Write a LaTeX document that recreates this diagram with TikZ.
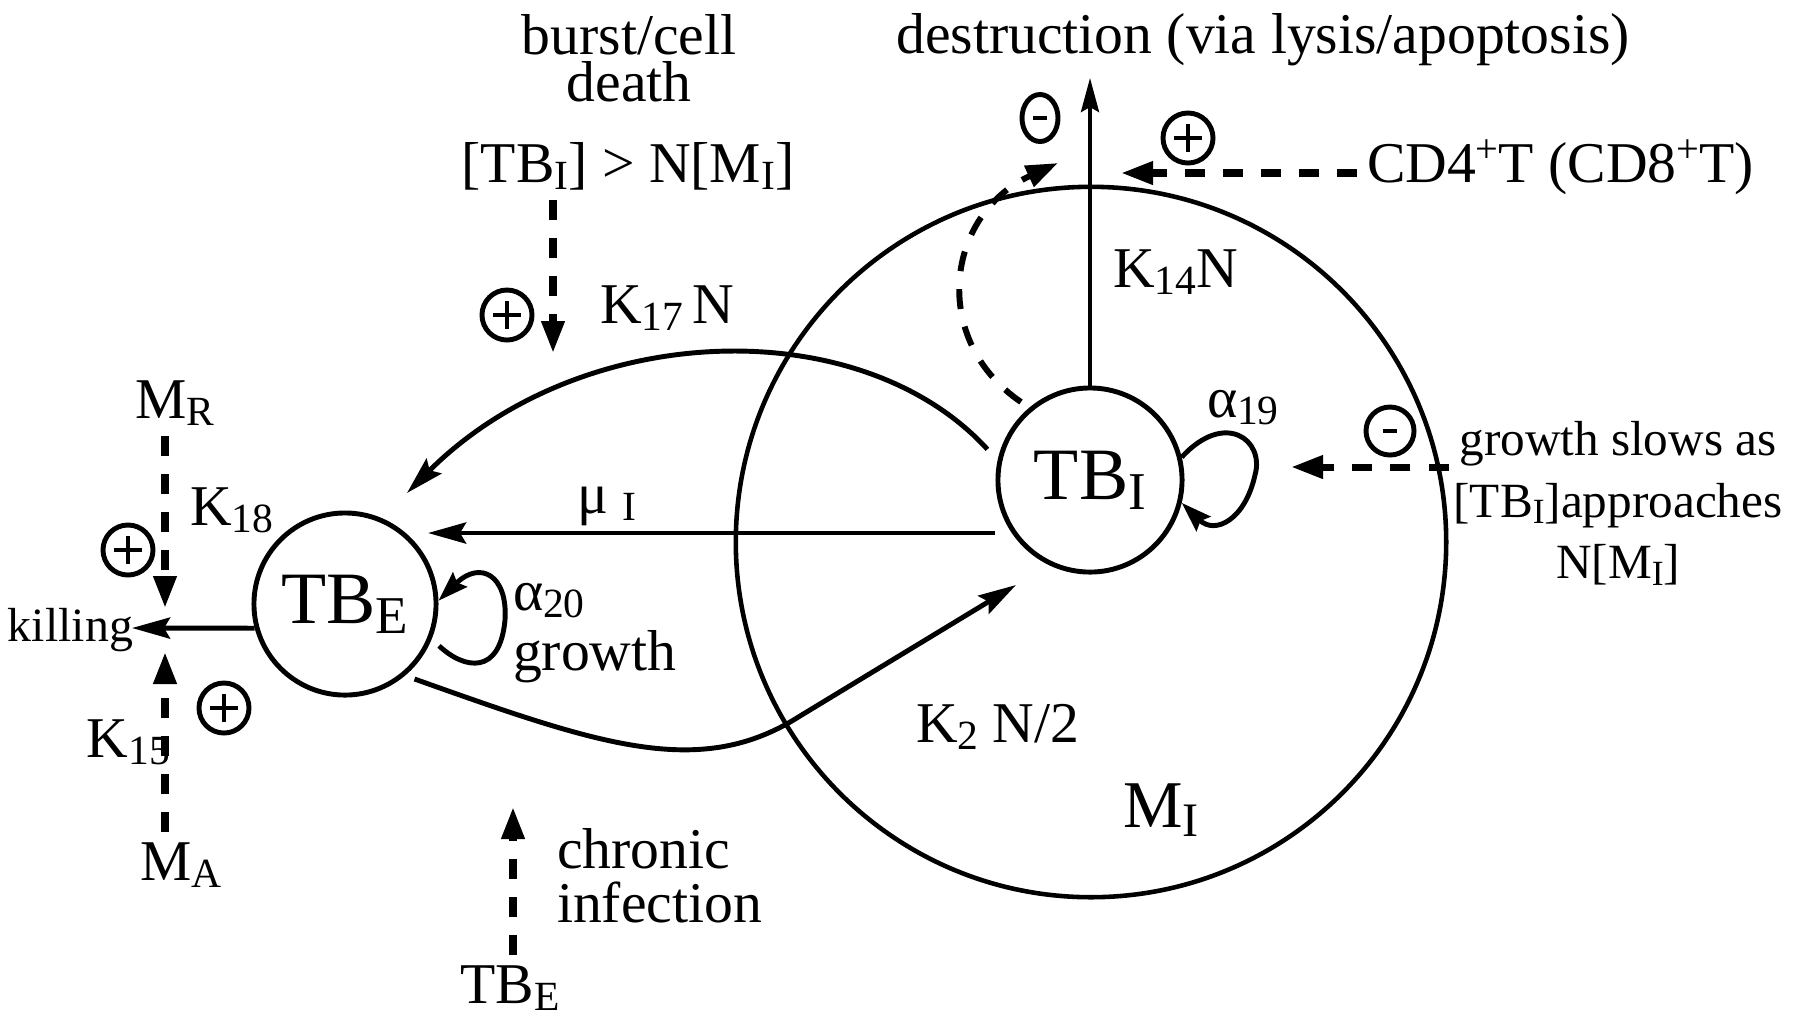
\documentclass[tikz,border=0pt]{standalone}
\usepackage{fontspec}
\setmainfont{Liberation Serif}
\usetikzlibrary{positioning,arrows.meta,shapes.geometric}
\newcommand{\lo}[1]{\raisebox{-0.3ex}{\scalebox{0.72}{#1}}}
\newcommand{\hi}[1]{\raisebox{0.75ex}{\scalebox{0.7}{#1}}}

\begin{document}
\begin{tikzpicture}[x=0.01cm, y=-0.01cm,
  st/.style={circle, draw, line width=1.4pt, minimum size=#1, inner sep=0pt,
             font=\fontsize{21}{24}\selectfont},
  lb/.style={inner sep=0pt, outer sep=0pt, font=\fontsize{16.4}{19}\selectfont},
  ar/.style={line width=1.4pt, -{Stealth[length=3.8mm, width=2.1mm, inset=0.6mm]}},
  lp/.style={line width=1.4pt, -{Stealth[length=3mm, width=2mm, inset=0.4mm]}},
  da/.style={line width=2pt, dash pattern=on 2mm off 1.8mm,
             -{Triangle[length=3.2mm, width=2.2mm]}},
  pl/.style={circle, draw, line width=1.4pt, minimum size=5mm, inner sep=0pt,
             path picture={\draw[line width=1.3pt]
               ([xshift=-1.4mm]path picture bounding box.center) -- ([xshift=1.4mm]path picture bounding box.center)
               ([yshift=-1.4mm]path picture bounding box.center) -- ([yshift=1.4mm]path picture bounding box.center);}},
  mi/.style={circle, draw, line width=1.4pt, minimum size=4.8mm, inner sep=0pt,
             path picture={\draw[line width=1.3pt]
               ([xshift=-0.7mm]path picture bounding box.center) -- ([xshift=0.7mm]path picture bounding box.center);}}
]
\useasboundingbox (0,0) rectangle (1800,1026);

% compartments
\node[st=7.1cm, line width=1.3pt] (MI) at (1091,542) {};
\node[st=1.84cm] (TBI) at (1090,480) {TB\lo{I}};
\node[st=1.82cm] (TBE) at (345,604) {TB\lo{E}};
\node[lb, anchor=base west, font=\fontsize{19}{22}\selectfont] (MIl) at (1123,827) {M\lo{I}};

% destruction of infected cells
\node[lb, anchor=base] (dest) at (1263,53) {destruction (via lysis/apoptosis)};
\coordinate (desttip) at (1090,78);
\draw[line width=1.1pt, -{Stealth[length=3.4mm, width=1.8mm, inset=0.5mm]}] (TBI) -- (desttip);
\node[lb, anchor=base west] (k14) at (1113,287) {K\lo{14}N};
\node[mi, ellipse, minimum width=3.6mm, minimum height=4.7mm] (mdest) at (1040,118) {};
\coordinate (arctip) at (1058,163);
\draw[da, line width=1.7pt, shorten <=1mm] (TBI.130) .. controls (930,340) and (945,215) .. (arctip);
\node[pl] (pcd) at (1188,138) {};
\node[lb, anchor=base west, outer sep=1mm] (CD) at (1357,182) {CD4\hi{+}T (CD8\hi{+}T)};
\coordinate (cdtip) at (1121,173);
\draw[da] (CD.west |- cdtip) -- (cdtip);

% intracellular growth
\draw[lp] (TBI.14) .. controls (1225,410) and (1265,440) .. (1255,475)
  .. controls (1245,520) and (1215,535) .. (TBI.-14);
\node[lb, anchor=base west] (a19) at (1207,417) {α\lo{19}};
\node[mi] (mgrow) at (1390,431) {};
\node[lb, align=center, anchor=north, font=\fontsize{14}{17.6}\selectfont] (slow) at (1618,421)
  {growth slows as\\{[}TB\lo{I}{]}approaches\\N[M\lo{I}]};
\coordinate (slowtip) at (1291,467);
\draw[da] (MI.east |- slowtip) -- (slowtip);

% release of bacteria
\coordinate (mutip) at (428,533);
\draw[ar] (TBI.west |- mutip) -- (mutip);
\node[lb, anchor=base west] (mu) at (577,513) {μ\kern1.5mm\lo{I}};
\coordinate (k17tip) at (407,493);
\draw[ar, shorten <=1.5mm] (TBI.168) .. controls (860,310) and (580,320) .. (k17tip);
\node[lb, anchor=base west] (k17) at (600,323) {K\lo{17}\,N};
\node[pl] (p17) at (507,315) {};
\node[lb, align=center, anchor=south, font=\fontsize{16.4}{13.4}\selectfont] (burst) at (629,102) {burst/cell\\death};
\node[lb, anchor=base, outer sep=1mm] (cond) at (628,182) {[TB\lo{I}] > N[M\lo{I}]};
\coordinate (condtip) at (553,353);
\draw[da] (cond.south -| condtip) -- (condtip);

% extracellular growth and infection
\draw[lp, shorten <=1mm] (TBE.-22) .. controls (465,670) and (500,675) .. (505,620)
  .. controls (508,575) and (480,560) .. (TBE.2);
\node[lb, anchor=base west] (a20) at (513,610) {α\lo{20}};
\node[lb, anchor=base west] (grow) at (513,670) {growth};
\coordinate (k2tip) at (1016,585);
\draw[ar, shorten <=1mm] (TBE.-50) .. controls (600,745) and (700,780) .. (800,716) -- (k2tip);
\node[lb, anchor=base west] (k2) at (916,742) {K\lo{2} N/2};
\node[lb, anchor=base, outer sep=1mm] (TBEb) at (510,1003) {TB\lo{E}};
\coordinate (chrtip) at (513,807);
\draw[da] (TBEb.north -| chrtip) -- (chrtip);
\node[lb, anchor=base west] (chr) at (557,868) {chronic};
\node[lb, anchor=base west] (inf) at (557,922) {infection};

% killing by macrophages
\node[lb, anchor=base, outer sep=1mm] (MR) at (175,418) {M\lo{R}};
\coordinate (mrtip) at (165,608);
\draw[da] (MR.south -| mrtip) -- (mrtip);
\node[lb, anchor=base west] (k18) at (190,525) {K\lo{18}};
\node[pl] (p18) at (128,550) {};
\node[lb, anchor=base west, font=\fontsize{13.6}{16}\selectfont] (kill) at (8,641) {killing};
\coordinate (killtip) at (132,628);
\draw[ar] (TBE.195) -- (killtip);
\node[pl] (p15) at (224,708) {};
\node[lb, anchor=base west] (k15) at (87,757) {K\lo{15}};
\node[lb, anchor=base, outer sep=1mm] (MA) at (181,880) {M\lo{A}};
\coordinate (matip) at (165,652);
\draw[da] (MA.north -| matip) -- (matip);
\end{tikzpicture}
\end{document}
